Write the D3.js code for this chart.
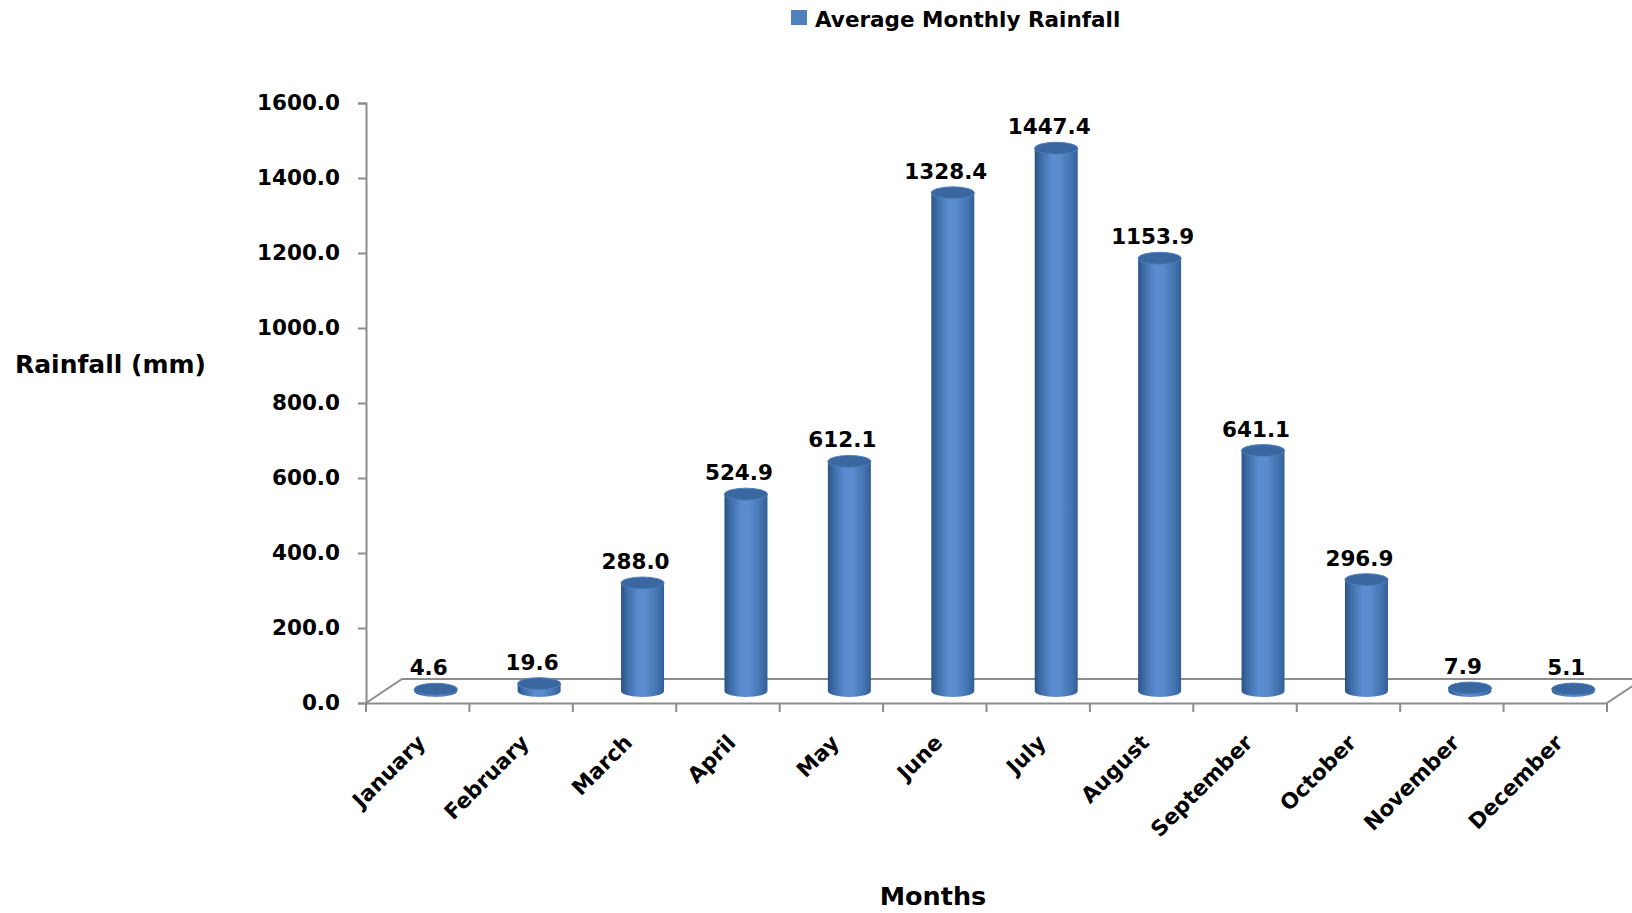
<!DOCTYPE html>
<html>
<head>
<meta charset="utf-8">
<script src="https://cdn.jsdelivr.net/npm/d3@7/dist/d3.min.js"></script>
<style>
  body { margin: 0; background: #fff; }
  text { font-family: "DejaVu Sans", sans-serif; font-weight: bold; fill: #000; }
</style>
</head>
<body>
<div id="chart"></div>
<script>
var months = ["January", "February", "March", "April", "May", "June",
              "July", "August", "September", "October", "November", "December"];
var rainfall = [4.6, 19.6, 288.0, 524.9, 612.1, 1328.4, 1447.4, 1153.9, 641.1, 296.9, 7.9, 5.1];
var yTicks = [0, 200, 400, 600, 800, 1000, 1200, 1400, 1600];
var seriesName = "Average Monthly Rainfall";

var width = 1632, height = 913;

var svg = d3.select("#chart").append("svg")
    .attr("width", width)
    .attr("height", height);

// 3d depth of the floor
var depth = {x: 36, y: -24};

var x = d3.scaleBand()
    .domain(months)
    .range([366, 1607]);

var y = d3.scaleLinear()
    .domain([0, 1600])
    .range([703, 103]);

var defs = svg.append("defs");
var grad = defs.append("linearGradient")
    .attr("id", "cyl")
    .attr("x1", "0%").attr("x2", "100%")
    .attr("y1", "0%").attr("y2", "0%");
grad.selectAll("stop")
    .data([["0%", "#2b5384"], ["12%", "#3b69a4"], ["40%", "#5a8dd0"], ["58%", "#5a8ccd"], ["85%", "#4273b0"], ["100%", "#335e96"]])
    .enter().append("stop")
    .attr("offset", function (d) { return d[0]; })
    .attr("stop-color", function (d) { return d[1]; });

// floor
var x0 = x.range()[0], x1 = x.range()[1], y0 = y(0);
svg.append("path")
    .attr("d", "M" + x0 + "," + y0 + " L" + (x0 + depth.x) + "," + (y0 + depth.y) +
               " L" + (x1 + depth.x) + "," + (y0 + depth.y) + " L" + x1 + "," + y0)
    .attr("fill", "none")
    .attr("stroke", "#8c8c8c")
    .attr("stroke-width", 2);

// y axis
var yAxis = d3.axisLeft(y)
    .tickValues(yTicks)
    .tickFormat(d3.format(".1f"))
    .tickSize(8)
    .tickPadding(18);

var gy = svg.append("g")
    .attr("transform", "translate(" + x0 + ",0)")
    .call(yAxis);
gy.select(".domain").attr("stroke", "#8c8c8c").attr("stroke-width", 2);
gy.selectAll(".tick line").attr("stroke", "#8c8c8c").attr("stroke-width", 2);
gy.selectAll(".tick text")
    .style("font-size", "21.5px")
    .style("font-family", "DejaVu Sans")
    .style("font-weight", "bold")
    .attr("fill", "#000");

// x axis: front floor edge with ticks between categories
var xAxis = d3.axisBottom(x).tickSize(0).tickFormat("");
var gx = svg.append("g")
    .attr("transform", "translate(0," + y0 + ")")
    .call(xAxis);
gx.select(".domain").attr("stroke", "#8c8c8c").attr("stroke-width", 2);

var bounds = months.map(function (m) { return x(m); }).concat([x1]);
gx.selectAll(".sep")
    .data(bounds)
    .enter().append("line")
    .attr("class", "sep")
    .attr("x1", function (d) { return d; })
    .attr("x2", function (d) { return d; })
    .attr("y1", 0)
    .attr("y2", 9)
    .attr("stroke", "#8c8c8c")
    .attr("stroke-width", 2);

gx.selectAll(".mlabel")
    .data(months)
    .enter().append("text")
    .attr("class", "mlabel")
    .attr("text-anchor", "end")
    .attr("transform", function (d) {
        return "translate(" + (x(d) + x.bandwidth() / 2 + 9) + ",41) rotate(-45)";
    })
    .style("font-size", "21.5px")
    .text(function (d) { return d; });

// cylinders
var rx = 21.5, ry = 6;
function cx(m) { return x(m) + x.bandwidth() / 2 + depth.x / 2; }
var baseY = y0 + depth.y / 2;

var bars = svg.selectAll(".bar")
    .data(months.map(function (m, i) { return {m: m, v: rainfall[i]}; }))
    .enter().append("g")
    .attr("class", "bar");

bars.append("path")
    .attr("d", function (d) {
        var c = cx(d.m), top = y(d.v) + depth.y / 2;
        return "M" + (c - rx) + "," + top +
               " L" + (c - rx) + "," + baseY +
               " A" + rx + "," + ry + " 0 0 0 " + (c + rx) + "," + baseY +
               " L" + (c + rx) + "," + top + " Z";
    })
    .attr("fill", "url(#cyl)");

bars.append("ellipse")
    .attr("cx", function (d) { return cx(d.m); })
    .attr("cy", function (d) { return y(d.v) + depth.y / 2; })
    .attr("rx", rx)
    .attr("ry", ry)
    .attr("fill", "#3a67a0")
    .attr("stroke", "#4f7fbd")
    .attr("stroke-width", 1);

bars.append("text")
    .attr("x", function (d) { return cx(d.m) - 7; })
    .attr("y", function (d) { return y(d.v) + depth.y / 2 - 14; })
    .attr("text-anchor", "middle")
    .style("font-size", "21.5px")
    .text(function (d) { return d.v.toFixed(1); });

// axis titles
svg.append("text")
    .attr("x", 15)
    .attr("y", 373)
    .style("font-size", "25px")
    .text("Rainfall (mm)");

svg.append("text")
    .attr("x", 933)
    .attr("y", 905)
    .attr("text-anchor", "middle")
    .style("font-size", "25.5px")
    .text("Months");

// legend
svg.append("rect")
    .attr("x", 791).attr("y", 10)
    .attr("width", 16).attr("height", 15)
    .attr("fill", "#4f81bd");
svg.append("text")
    .attr("x", 815)
    .attr("y", 27)
    .style("font-size", "21.5px")
    .text(seriesName);
</script>
</body>
</html>
